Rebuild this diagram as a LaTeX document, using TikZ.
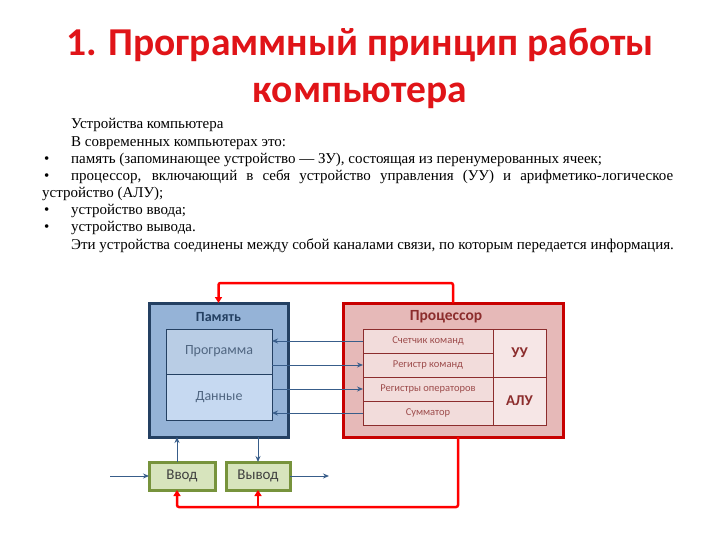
\documentclass[tikz,border=0pt]{standalone}
\usepackage{fontspec}
\setmainfont{Liberation Serif}
\newfontfamily\slidefont{Carlito}
\usetikzlibrary{arrows.meta, positioning}

\definecolor{titlered}{RGB}{224,20,24}
\definecolor{memfill}{RGB}{149,179,215}
\definecolor{memline}{RGB}{36,64,98}
\definecolor{progfill}{RGB}{185,205,229}
\definecolor{datafill}{RGB}{198,217,241}
\definecolor{cpufill}{RGB}{230,185,184}
\definecolor{cpuline}{RGB}{200,0,0}
\definecolor{cellfill}{RGB}{242,220,219}
\definecolor{cellline}{RGB}{140,45,45}
\definecolor{iofill}{RGB}{215,228,189}
\definecolor{ioline}{RGB}{119,147,60}
\definecolor{linkblue}{RGB}{56,93,138}

\begin{document}
\begin{tikzpicture}[
    x=1pt, y=-1pt,
    line/.style={anchor=base west, inner sep=0pt,
    font=\fontsize{15}{17}\selectfont},
    outer/.style={rectangle, line width=3pt, inner sep=0pt,
    outer sep=0pt, anchor=north west},
    memcell/.style={rectangle, draw=memline, line width=0.8pt,
    inner sep=0pt, outer sep=0pt, minimum width=106pt,
    font=\slidefont\fontsize{14}{16}\selectfont, text=memline!80},
    cell/.style={rectangle, draw=cellline, fill=cellfill, line width=0.8pt,
    inner sep=0pt, outer sep=0pt, minimum width=130pt, minimum height=24pt,
    font=\slidefont\fontsize{10.5}{12}\selectfont, text=cellline!85},
    unit/.style={cell, minimum width=53pt, minimum height=48pt,
    font=\slidefont\bfseries\fontsize{15}{17}\selectfont, text=cellline},
    io/.style={rectangle, draw=ioline, fill=iofill, line width=3pt,
    inner sep=0pt, outer sep=0pt, minimum height=28pt,
    font=\slidefont\fontsize{15}{17}\selectfont, text=black!75},
    link/.style={-{Stealth[length=6pt, width=5pt]}, draw=linkblue,
    line width=1pt},
    bus/.style={-{Triangle[length=6pt, width=7pt]}, draw=red,
    line width=2.5pt, rounded corners=2pt} ]

    \useasboundingbox (0,0) rectangle (720,540);

    % Title
    \node[anchor=base, text=titlered,
	    font=\slidefont\bfseries\fontsize{39.5}{47}\selectfont]
	    (title_one) at (360,56) {1. Программный принцип работы};
    \node[anchor=base, text=titlered,
	    font=\slidefont\bfseries\fontsize{39.5}{47}\selectfont]
	    (title_two) at (360,103) {компьютера};

    % Text lines
    \node[line] (intro_line) at (71,129) {Устройства компьютера};
    \node[line] (modern_line) at (71,146.2) {В современных компьютерах это:};
    \node[line] (mem_dot) at (44,163.3) {•};
    \node[line] (mem_item) at (71,163.3)
	    {память (запоминающее устройство — ЗУ), состоящая из перенумерованных ячеек;};
    \node[line] (cpu_dot) at (44,180.5) {•};
    \node[line] (cpu_item) at (71,180.5)
	    {\makebox[602pt][s]{процессор, включающий в себя устройство управления (УУ) и арифметико-логическое}};
    \node[line] (cpu_rest) at (42,197.6) {устройство (АЛУ);};
    \node[line] (in_dot) at (44,214.8) {•};
    \node[line] (in_item) at (71,214.8) {устройство ввода;};
    \node[line] (out_dot) at (44,231.9) {•};
    \node[line] (out_item) at (71,231.9) {устройство вывода.};
    \node[line] (link_line) at (71,249)
	    {Эти устройства соединены между собой каналами связи, по которым передается информация.};

    % Nodes for Memory
    \node[outer, draw=memline, fill=memfill, minimum width=139pt,
	    minimum height=134pt] (mem_box) at (149,303) {};
    \node[text=memline, font=\slidefont\bfseries\fontsize{14}{16}\selectfont]
	    (mem_label) at (218.5,317) {Память};
    \node[memcell, fill=progfill, minimum height=45pt, anchor=north west]
	    (prog_cell) at (166,329) {Программа};
    \node[memcell, fill=datafill, minimum height=46pt, below=0pt of prog_cell]
	    (data_cell) {Данные};

    % Nodes for Processor
    \node[outer, draw=cpuline, fill=cpufill, minimum width=220pt,
	    minimum height=134pt] (cpu_box) at (343,303) {};
    \node[text=cellline, font=\slidefont\bfseries\fontsize{15.5}{17}\selectfont]
	    (cpu_label) at (446,317) {Процессор};
    \node[cell, anchor=north west] (pc_cell) at (363,329) {Счетчик команд};
    \node[cell, below=0pt of pc_cell] (ir_cell) {Регистр команд};
    \node[cell, below=0pt of ir_cell] (reg_cell) {Регистры операторов};
    \node[cell, below=0pt of reg_cell] (sum_cell) {Сумматор};
    \node[unit, anchor=north west, fill=cellfill!70] (uu_cell)
	    at (pc_cell.north east) {УУ};
    \node[unit, below=0pt of uu_cell, fill=cellfill!70] (alu_cell) {АЛУ};

    % Nodes for Input and Output
    \node[io, minimum width=66pt, anchor=north west] (in_box) at (149,462) {Ввод};
    \node[io, minimum width=64pt, anchor=north west] (out_box) at (226,462) {Вывод};
    \coordinate (in_src) at (110,476);
    \coordinate (out_dst) at (329,476);
    \coordinate (bus_bot) at (0,507);

    % Arrows between Memory and Processor
    \draw[link] (pc_cell.west) -- (pc_cell.west -| prog_cell.east);
    \draw[link] (ir_cell.west -| prog_cell.east) -- (ir_cell.west);
    \draw[link] (reg_cell.west -| data_cell.east) -- (reg_cell.west);
    \draw[link] (sum_cell.west) -- (sum_cell.west -| data_cell.east);

    % Arrows for Input and Output
    \draw[link] (in_src) -- (in_box.west);
    \draw[link] (out_box.east) -- (out_dst);
    \draw[link] ([xshift=-5pt]in_box.north) -- ([xshift=-5pt]in_box.north |- mem_box.south);
    \draw[link] (out_box.north |- mem_box.south) -- (out_box.north);

    % Control lines from Processor
    \draw[bus] (cpu_box.north) -- ++(0,-20) -| (mem_box.north);
    \draw[bus] ([xshift=5pt]cpu_box.south) -- ([xshift=5pt]cpu_box.south |- bus_bot)
	    -| ([xshift=-5pt]in_box.south);
    \draw[bus] (out_box.south |- bus_bot) -- (out_box.south);

  \end{tikzpicture}
\end{document}
